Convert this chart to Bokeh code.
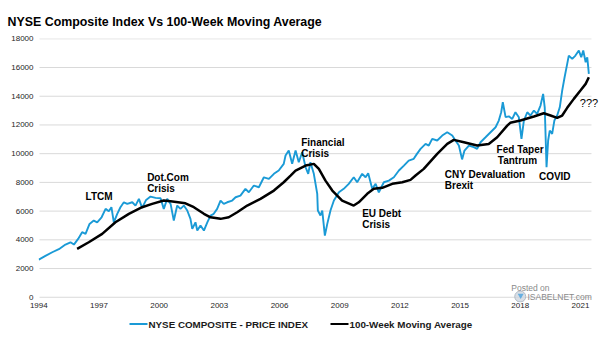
from bokeh.plotting import figure
from bokeh.layouts import column
from bokeh.models import ColumnDataSource, FixedTicker, Label, Range1d
from bokeh.core.properties import value
from bokeh.embed import file_html
from bokeh.resources import INLINE

# ---- data ----
price_years = [1994.0, 1994.33, 1994.67, 1995.0, 1995.33, 1995.58, 1995.75, 1995.96, 1996.16, 1996.33,
               1996.53, 1996.74, 1996.91, 1997.13, 1997.33, 1997.49, 1997.62, 1997.74, 1997.91, 1998.07,
               1998.24, 1998.41, 1998.66, 1998.82, 1998.99, 1999.15, 1999.35, 1999.57, 1999.82, 2000.07,
               2000.23, 2000.4, 2000.57, 2000.73, 2000.9, 2001.06, 2001.23, 2001.4, 2001.56, 2001.65,
               2001.81, 2001.9, 2002.06, 2002.23, 2002.4, 2002.56, 2002.72, 2002.89, 2003.06, 2003.22,
               2003.39, 2003.64, 2003.81, 2004.05, 2004.3, 2004.47, 2004.72, 2004.97, 2005.22, 2005.47,
               2005.72, 2005.96, 2006.21, 2006.3, 2006.46, 2006.63, 2006.8, 2006.96, 2007.13, 2007.3,
               2007.43, 2007.54, 2007.71, 2007.88, 2007.91, 2008.04, 2008.13, 2008.26, 2008.38, 2008.54,
               2008.71, 2008.96, 2009.2, 2009.45, 2009.7, 2009.87, 2010.12, 2010.29, 2010.42, 2010.62,
               2010.79, 2010.95, 2011.2, 2011.45, 2011.7, 2011.95, 2012.2, 2012.44, 2012.69, 2012.85,
               2013.03, 2013.28, 2013.44, 2013.61, 2013.86, 2014.11, 2014.36, 2014.61, 2014.77, 2014.94,
               2015.1, 2015.22, 2015.44, 2015.68, 2015.85, 2016.02, 2016.27, 2016.52, 2016.77, 2016.93,
               2017.05, 2017.13, 2017.27, 2017.43, 2017.6, 2017.76, 2017.93, 2018.06, 2018.18, 2018.35,
               2018.51, 2018.68, 2018.84, 2019.01, 2019.14, 2019.22, 2019.31, 2019.39, 2019.47, 2019.59,
               2019.7, 2019.84, 2019.97, 2020.09, 2020.21, 2020.34, 2020.42, 2020.59, 2020.75, 2020.92,
               2021.04, 2021.14, 2021.26, 2021.34, 2021.42]
price_values = [2625, 2880, 3135, 3345, 3670, 3830, 3670, 4065, 4530, 4415,
                5110, 5340, 5220, 5570, 6155, 5990, 6270, 5220, 5810, 6270,
                6615, 6500, 6615, 6385, 6850, 6225, 6780, 7010, 6920, 6900,
                6155, 6850, 6500, 5340, 6385, 6155, 6385, 6040, 5460, 4765,
                5220, 4645, 4995, 4645, 5220, 5690, 5810, 6155, 6735, 6500,
                6615, 6735, 6965, 7080, 7550, 7310, 7780, 7660, 8355, 8245,
                8595, 8825, 9290, 9870, 10215, 9290, 10215, 9400, 10100, 9055,
                8595, 9400, 8595, 7200, 6040, 5690, 6040, 4295, 5110, 6040,
                6735, 7310, 7550, 7900, 8355, 8010, 8595, 8355, 8635, 7550,
                7900, 7310, 8010, 8125, 8355, 8825, 9170, 9520, 9640, 9985,
                10335, 10680, 10565, 11030, 10915, 11260, 11490, 11260, 10915, 10565,
                9600, 10215, 10565, 10450, 10335, 10795, 11140, 11490, 11840, 12305,
                12885, 13580, 12540, 12600, 12420, 12885, 12535, 11030, 12305, 12885,
                12655, 13000, 12770, 13350, 14165, 13230, 9055, 10915, 11610, 11380,
                12305, 12655, 13230, 14395, 15320, 16255, 16830, 16600, 16830, 17180,
                16715, 17180, 16365, 16715, 15560]

ma_years = [1995.91, 1996.49, 1997.16, 1997.82, 1998.49, 1999.15, 1999.65, 2000.23, 2000.57, 2001.31,
            2001.73, 2002.23, 2002.56, 2003.06, 2003.47, 2003.89, 2004.39, 2005.05, 2005.72, 2006.21,
            2006.55, 2006.8, 2007.3, 2007.71, 2007.96, 2008.29, 2008.63, 2009.12, 2009.7, 2009.95,
            2010.37, 2010.7, 2011.12, 2011.62, 2012.12, 2012.53, 2012.78, 2013.19, 2013.86, 2014.36,
            2014.69, 2015.19, 2015.85, 2016.43, 2016.85, 2017.35, 2017.5, 2018.01, 2018.68, 2019.17,
            2019.51, 2019.84, 2020.09, 2020.34, 2020.67, 2021.0, 2021.26, 2021.42]
ma_values = [3370, 3830, 4415, 5220, 5810, 6270, 6500, 6735, 6685, 6545,
             6270, 5810, 5570, 5460, 5570, 5920, 6385, 6850, 7430, 8010,
             8475, 8825, 9170, 9290, 8940, 8125, 7430, 6735, 6385, 6615,
             7200, 7550, 7620, 7900, 8010, 8175, 8475, 8940, 9985, 10680,
             10960, 10795, 10565, 10680, 11140, 11950, 12150, 12305, 12585, 12815,
             12655, 12490, 12655, 13190, 13815, 14395, 14860, 15320]

x_ticks = [1994, 1997, 2000, 2003, 2006, 2009, 2012, 2015, 2018, 2021]
y_ticks = [0, 2000, 4000, 6000, 8000, 10000, 12000, 14000, 16000, 18000]

note_text = ["LTCM", "Dot.Com", "Crisis", "Financial", "Crisis", "EU Debt", "Crisis",
             "CNY Devaluation", "Brexit", "Fed Taper", "Tantrum", "COVID"]
note_x = [1996.33, 1999.40, 1999.40, 2007.08, 2007.08, 2010.12, 2010.12,
          2014.24, 2014.24, 2016.82, 2016.88, 2018.93]
note_y = [7410, 8733, 7967, 11170, 10404, 6247, 5481, 8963, 8196, 10704, 9938, 8775]

series_names = ["NYSE COMPOSITE - PRICE INDEX", "100-Week Moving Average"]

FONT = "Liberation Sans"
BLUE = "#1a9ad6"
GRID_X0, GRID_X1 = 1994.035, 2021.55

p = figure(width=605, height=314, output_backend="svg", toolbar_location=None,
           x_range=Range1d(1993.985, 2022.0), y_range=Range1d(-365, 18020),
           min_border_left=38, min_border_right=5, min_border_top=38, min_border_bottom=12,
           outline_line_color=None, background_fill_color="white", border_fill_color="white")

p.title.text = "NYSE Composite Index Vs 100-Week Moving Average"
p.title.text_font = FONT
p.title.text_font_size = "12.4px"
p.title.text_font_style = "bold"
p.title.text_color = "#000000"
p.title.offset = -31
p.title.standoff = 19

# horizontal grid lines
p.segment(x0=[GRID_X0] * len(y_ticks), x1=[GRID_X1] * len(y_ticks), y0=y_ticks, y1=y_ticks,
          line_color="#d9d9d9", line_width=1)

src_p = ColumnDataSource(dict(x=price_years, y=price_values))
src_m = ColumnDataSource(dict(x=ma_years, y=ma_values))
p.line("x", "y", source=src_p, line_color=BLUE, line_width=1.9)
p.line("x", "y", source=src_m, line_color="black", line_width=2.5)

src_n = ColumnDataSource(dict(x=note_x, y=note_y, t=note_text))
p.text("x", "y", text="t", source=src_n, text_font=value(FONT), text_font_style="bold",
       text_font_size="10px", text_baseline="top", text_align="left", text_color="black")
p.add_layout(Label(x=2020.97, y=13956, text="???", text_font=FONT, text_font_size="11px",
                   text_baseline="top", text_color="black"))

# watermark
p.scatter(x=[2018.0], y=[50], size=11, marker="circle", fill_color="#cfd6de",
          line_color="#b0bac4", fill_alpha=0.8)
p.scatter(x=[2018.02], y=[120], size=6, marker="inverted_triangle", fill_color="#4aa3df",
          line_color=None, fill_alpha=0.8)
p.add_layout(Label(x=2017.55, y=989, text="Posted on", text_font=FONT, text_font_size="8.5px",
                   text_baseline="top", text_color="#8a8a8a"))
p.add_layout(Label(x=2018.36, y=362, text="ISABELNET.com", text_font=FONT, text_font_size="8.5px",
                   text_baseline="top", text_color="#8a8a8a"))

p.xgrid.visible = False
p.ygrid.visible = False
p.xaxis.ticker = FixedTicker(ticks=x_ticks)
p.yaxis.ticker = FixedTicker(ticks=y_ticks)
for ax in (p.xaxis[0], p.yaxis[0]):
    ax.axis_line_color = None
    ax.major_tick_line_color = None
    ax.minor_tick_line_color = None
    ax.major_tick_out = 0
    ax.major_tick_in = 0
    ax.minor_tick_out = 0
    ax.major_label_text_font = FONT
    ax.major_label_text_font_size = "8px"
    ax.major_label_text_color = "#262626"
p.xaxis.major_label_standoff = 0
p.yaxis.major_label_standoff = 5

# legend strip below the chart (column aligns its frame with the main frame: 38..600 px)
lg = figure(width=605, height=27, output_backend="svg", toolbar_location=None,
            x_range=Range1d(38, 600), y_range=Range1d(0, 27), x_axis_type=None, y_axis_type=None,
            min_border=0, outline_line_color=None, background_fill_color="white",
            border_fill_color="white")
lg.segment(x0=[129, 330], x1=[147, 348], y0=[17.5, 17.5], y1=[17.5, 17.5],
           line_color=[BLUE, "black"], line_width=2.2)
lg.text(x=[148, 349], y=[17.5, 17.5], text=series_names, text_font=value(FONT),
        text_font_style="bold", text_font_size="9.8px", text_baseline="middle",
        text_align="left", text_color="#1a1a1a")

open("out.html", "w").write(file_html(column(p, lg, spacing=0), INLINE))
